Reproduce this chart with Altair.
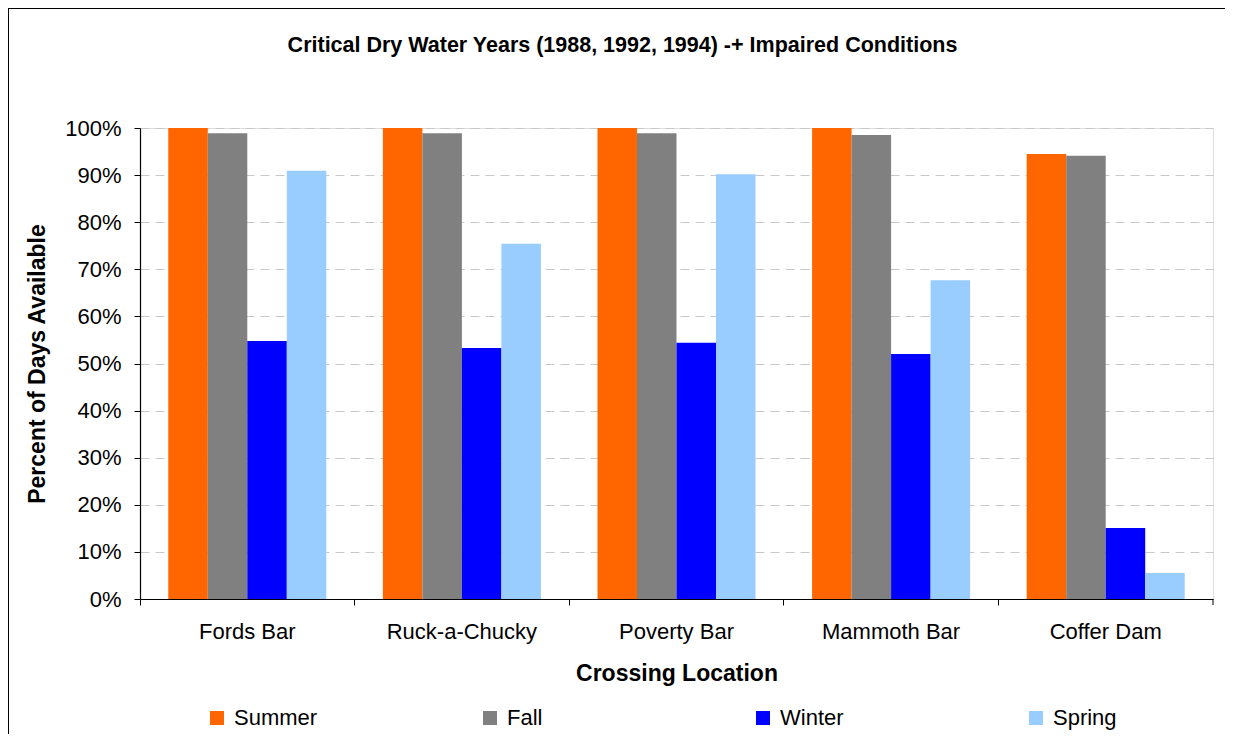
import altair as alt
import pandas as pd

locations = ["Fords Bar", "Ruck-a-Chucky", "Poverty Bar", "Mammoth Bar", "Coffer Dam"]
seasons = ["Summer", "Fall", "Winter", "Spring"]
summer = [100.0, 100.0, 100.0, 100.0, 94.5]
fall = [98.9, 98.9, 98.9, 98.5, 94.1]
winter = [54.8, 53.3, 54.4, 52.0, 15.1]
spring = [90.9, 75.4, 90.2, 67.7, 5.5]
colors = ["#FF6600", "#808080", "#0000FF", "#99CCFF"]
y_ticks = [0, 10, 20, 30, 40, 50, 60, 70, 80, 90, 100]

series = {"Summer": summer, "Fall": fall, "Winter": winter, "Spring": spring}
rows = []
for s in seasons:
    for loc, v in zip(locations, series[s]):
        rows.append({"Location": loc, "Season": s, "Value": v})
df = pd.DataFrame(rows)

W, H = 1073, 471
PL, PT, PR, PB = 132, 120, 12, 135
FONT = "Liberation Sans"

bars = alt.Chart(df).mark_bar().encode(
    x=alt.X(
        "Location:N",
        sort=locations,
        scale=alt.Scale(paddingInner=0, paddingOuter=0),
        axis=alt.Axis(
            title="Crossing Location",
            bandPosition=0,
            labelAngle=0,
            labelFontSize=22,
            labelFont=FONT,
            labelColor="#000000",
            labelPadding=16,
            tickSize=6,
            tickColor="#000000",
            domainColor="#000000",
            domainWidth=1.2,
            titleFontSize=23,
            titleFont=FONT,
            titleFontWeight="bold",
            titleColor="#000000",
            titlePadding=20,
        ),
    ),
    xOffset=alt.XOffset(
        "Season:N", sort=seasons, scale=alt.Scale(paddingInner=0, paddingOuter=0.716)
    ),
    y=alt.Y(
        "Value:Q",
        scale=alt.Scale(domain=[0, 100], nice=False),
        axis=alt.Axis(
            title="Percent of Days Available",
            values=y_ticks,
            labelExpr="datum.value + '%'",
            labelFontSize=22,
            labelFont=FONT,
            labelColor="#000000",
            labelPadding=13,
            tickSize=6,
            tickColor="#000000",
            domainColor="#000000",
            domainWidth=1.2,
            grid=True,
            gridColor="#c8c8c8",
            gridDash=[9, 6],
            gridWidth=1,
            titleFontSize=23,
            titleFont=FONT,
            titleFontWeight="bold",
            titleColor="#000000",
            titlePadding=15,
        ),
    ),
    color=alt.Color(
        "Season:N",
        sort=seasons,
        scale=alt.Scale(domain=seasons, range=colors),
        legend=alt.Legend(
            title=None,
            orient="none",
            legendX=66,
            legendY=579,
            direction="horizontal",
            columns=4,
            gridAlign="all",
            columnPadding=161,
            symbolType="square",
            symbolSize=196,
            symbolStrokeWidth=0,
            symbolOpacity=1,
            labelFontSize=22,
            labelFont=FONT,
            labelColor="#000000",
            labelOffset=6,
        ),
    ),
)

end_tick = alt.Chart(pd.DataFrame({"k": [0]})).mark_rule(color="#000000", strokeWidth=1).encode(
    x=alt.value(W), y=alt.value(H), y2=alt.value(H + 6)
)

frame_left = alt.Chart(pd.DataFrame({"k": [0]})).mark_rule(color="#000000", strokeWidth=1).encode(
    x=alt.value(-PL + 0.5), y=alt.value(-PT), y2=alt.value(H + PB)
)
frame_top = alt.Chart(pd.DataFrame({"k": [0]})).mark_rule(color="#000000", strokeWidth=1).encode(
    x=alt.value(-PL), x2=alt.value(W + PR), y=alt.value(-PT + 0.5)
)

chart = (
    alt.layer(bars, end_tick, frame_left, frame_top)
    .properties(
        width=W,
        height=H,
        autosize=alt.AutoSizeParams(type="none"),
        padding={"left": PL, "top": PT, "right": PR, "bottom": PB},
        title=alt.Title(
            "Critical Dry Water Years (1988, 1992, 1994) -+ Impaired Conditions",
            fontSize=21.5,
            font=FONT,
            fontWeight="bold",
            color="#000000",
            anchor="middle",
            dx=-54,
            offset=-66,
            baseline="alphabetic",
        ),
    )
    .configure_view(stroke="#8c8c8c", strokeWidth=1.5)
    .configure(background="#ffffff")
)

chart.save("out.html", embed_options={"renderer": "svg", "actions": False})
